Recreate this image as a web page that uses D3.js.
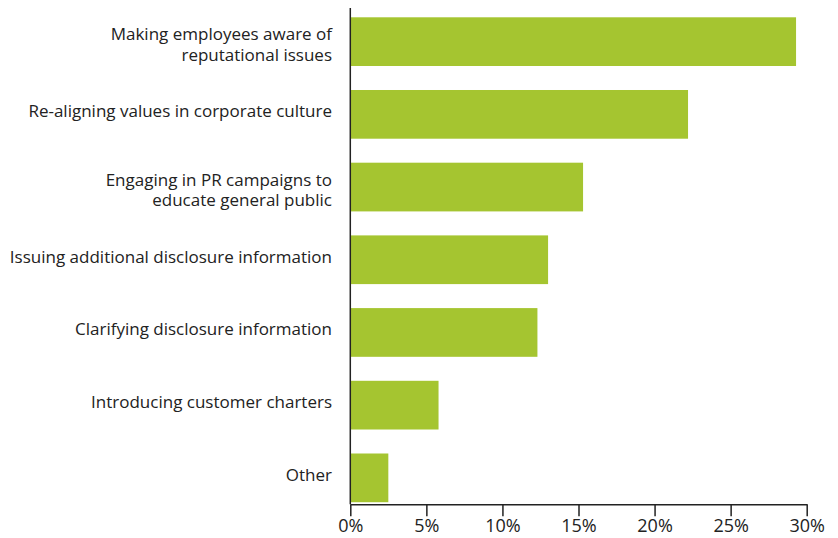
<!DOCTYPE html>
<html>
<head>
<meta charset="utf-8">
<script src="https://cdn.jsdelivr.net/npm/d3@7.9.0/dist/d3.min.js"></script>
<style>
  body { margin: 0; background: #fff; }
  svg text { font-family: "Open Sans", sans-serif; fill: #222; }
</style>
</head>
<body>
<svg id="chart" width="838" height="538"></svg>
<script>
const categories = [
  ['Making employees aware of', 'reputational issues'],
  ['Re-aligning values in corporate culture'],
  ['Engaging in PR campaigns to', 'educate general public'],
  ['Issuing additional disclosure information'],
  ['Clarifying disclosure information'],
  ['Introducing customer charters'],
  ['Other']
];
const values = [29.3, 22.2, 15.3, 13.0, 12.3, 5.8, 2.5];
const tickValues = [0, 5, 10, 15, 20, 25, 30];

const svg = d3.select('#chart');
const left = 350.3, right = 806.7, axisTop = 8, axisY = 504.3;

let x = d3.scaleLinear().domain([0, 30]).range([left, right]);
let y = d3.scaleBand()
  .domain(d3.range(categories.length))
  .range([5.3, 514.2])
  .paddingInner(0.33)
  .paddingOuter(0.165);

// bars
svg.selectAll('rect.bar')
  .data(values)
  .join('rect')
  .attr('class', 'bar')
  .attr('x', x(0))
  .attr('y', (d, i) => y(i))
  .attr('width', (d) => x(d) - x(0))
  .attr('height', y.bandwidth())
  .attr('fill', '#a5c530');

// category labels
categories.forEach((lines, i) => {
  let cy = y(i) + y.bandwidth() / 2;
  let lh = 20.5;
  let first = lines.length > 1 ? cy - 1.5 : cy + 3;
  let t = svg.append('text')
    .attr('text-anchor', 'end')
    .attr('font-size', 17);
  lines.forEach((line, j) => {
    t.append('tspan')
      .attr('x', 332)
      .attr('y', first + j * lh)
      .text(line);
  });
});

// x axis
let xAxis = d3.axisBottom(x)
  .tickValues(tickValues)
  .tickFormat((d) => d + '%')
  .tickSize(12)
  .tickSizeOuter(0)
  .tickPadding(3);

let gx = svg.append('g')
  .attr('transform', `translate(0,${axisY})`)
  .call(xAxis);
gx.select('.domain').attr('stroke', '#222').attr('stroke-width', 1.5);
gx.selectAll('.tick line').attr('stroke', '#222').attr('stroke-width', 1.5);
gx.selectAll('.tick text')
  .attr('font-size', 18)
  .attr('font-family', '"Open Sans", sans-serif')
  .attr('fill', '#222');

// y axis line
svg.append('line')
  .attr('x1', x(0)).attr('x2', x(0))
  .attr('y1', axisTop).attr('y2', axisY)
  .attr('stroke', '#222')
  .attr('stroke-width', 1.5);
</script>
</body>
</html>
